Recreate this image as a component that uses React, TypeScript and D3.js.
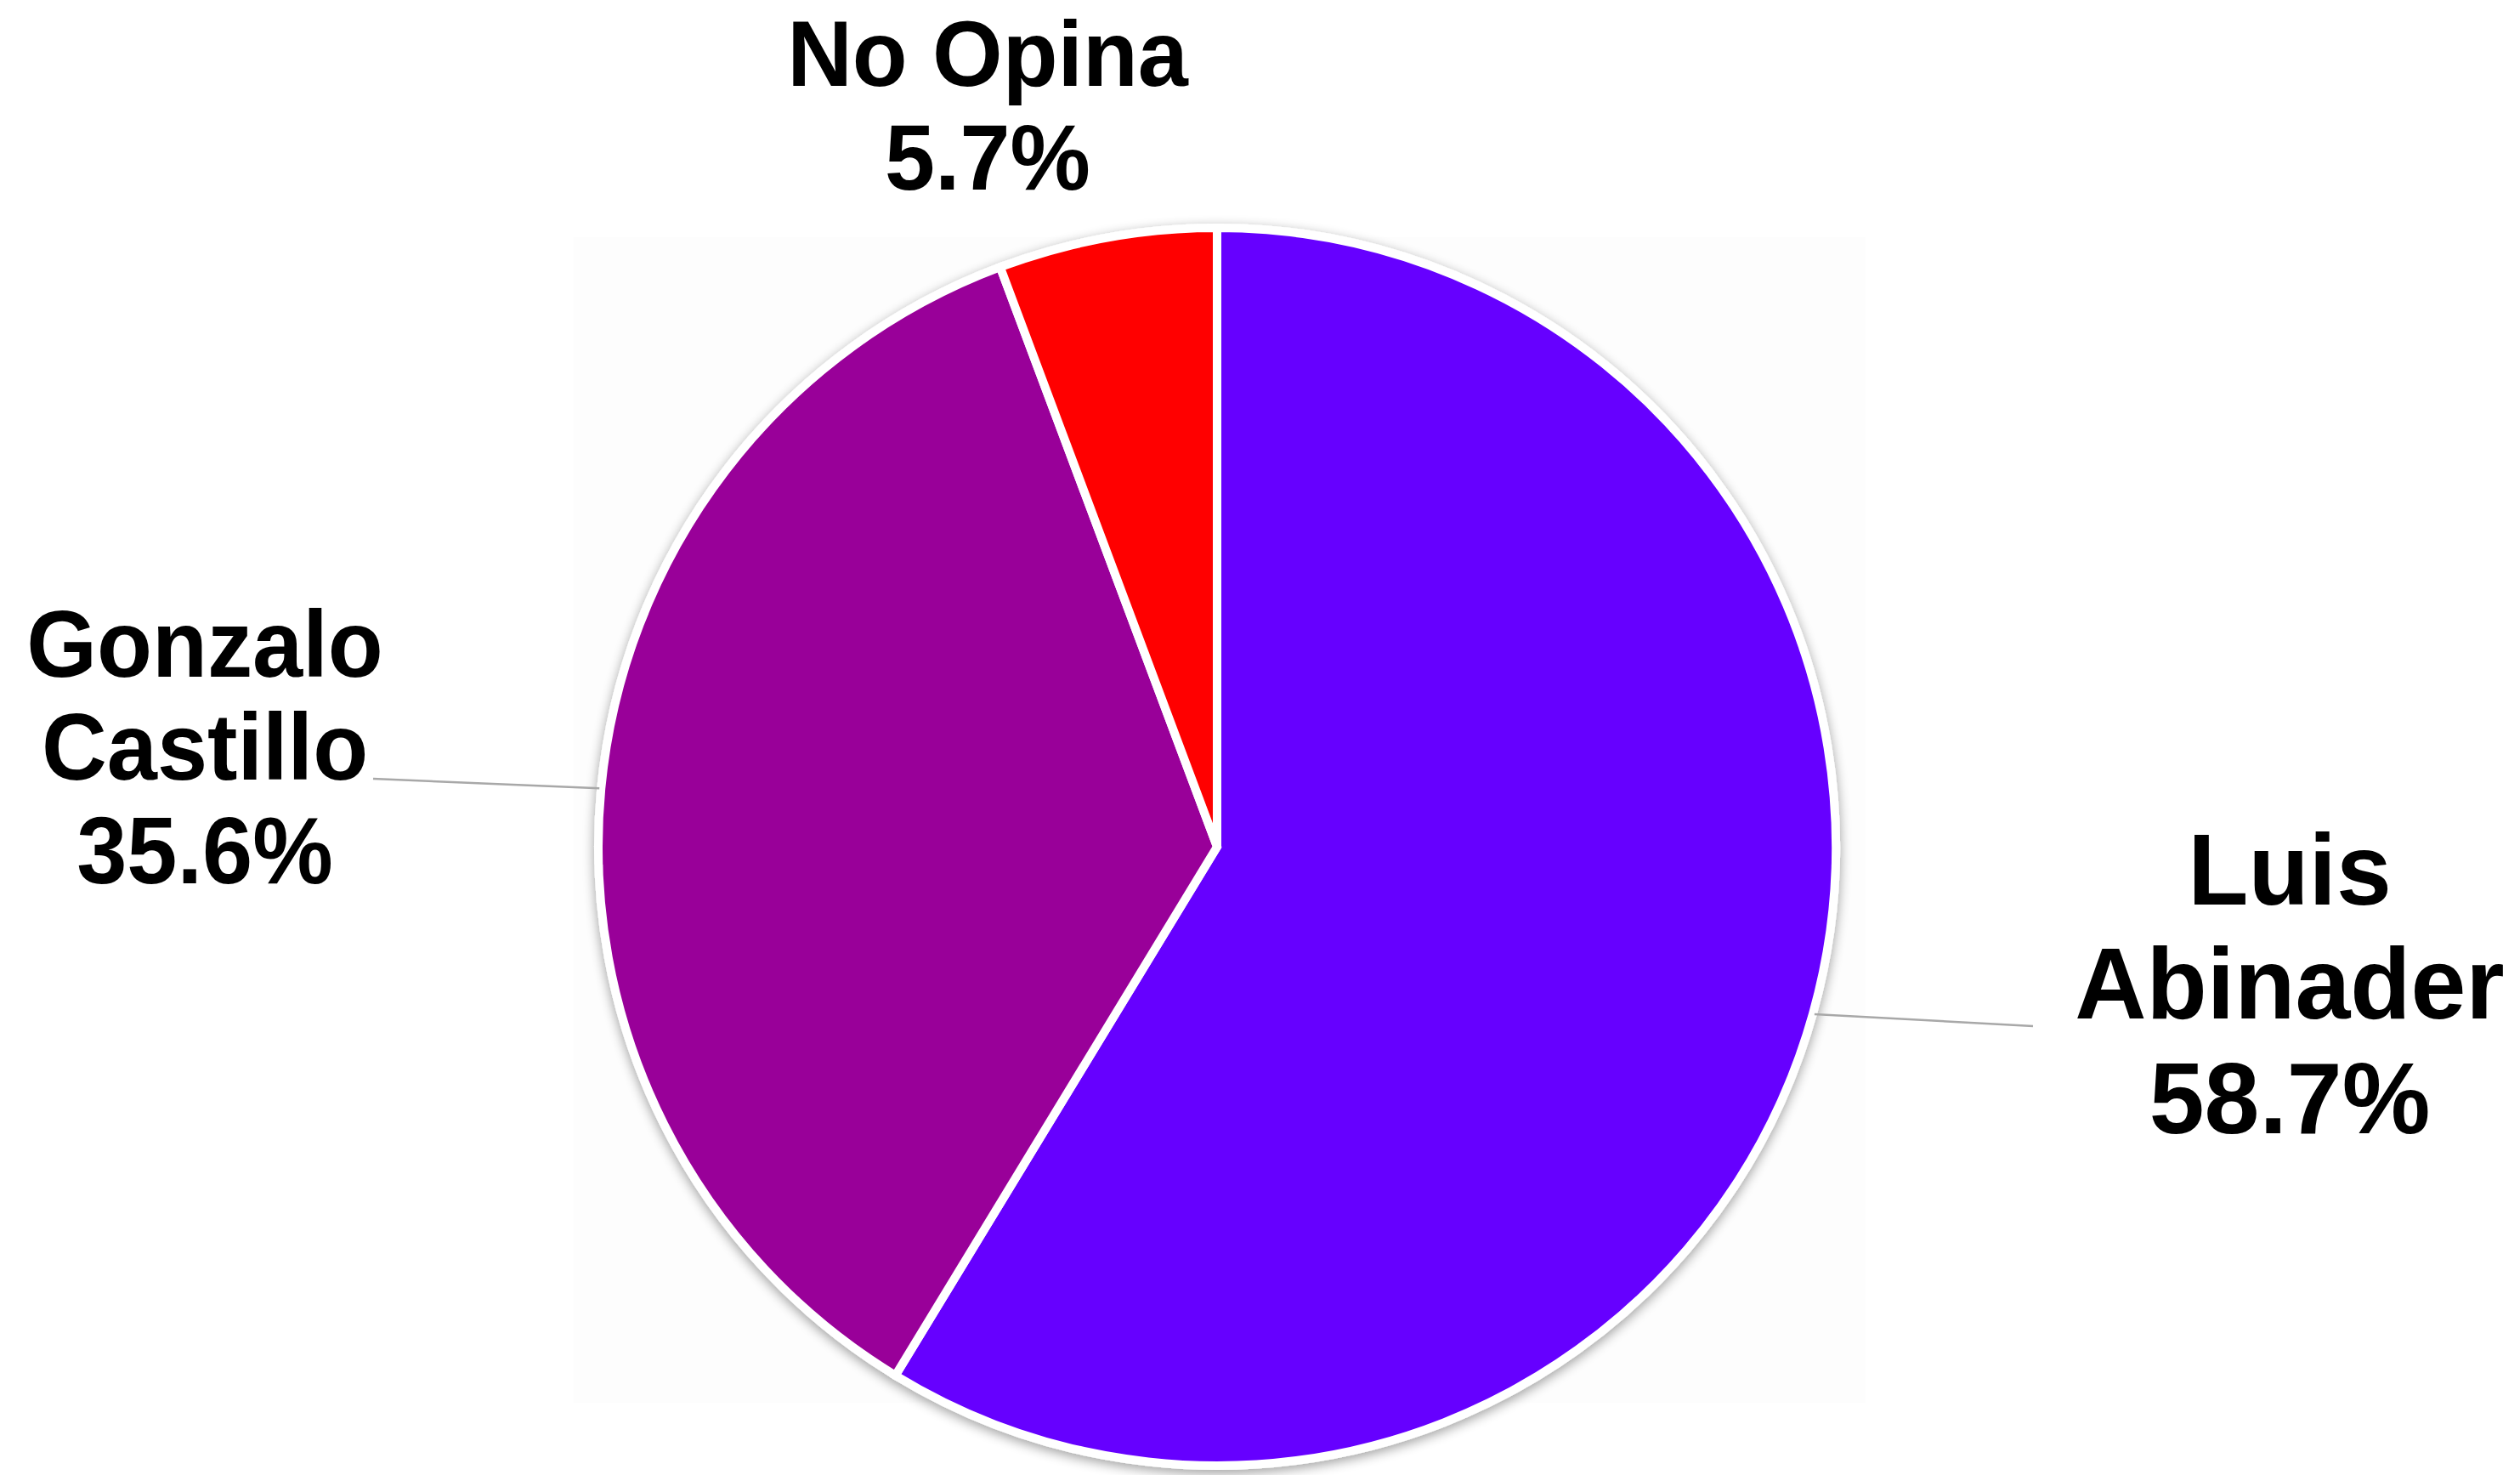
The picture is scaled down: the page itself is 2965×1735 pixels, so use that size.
import React from "react";
import * as d3 from "d3";

const categories = ["Luis Abinader", "Gonzalo Castillo", "No Opina"];
const values = [58.7, 35.6, 5.7];
const colors = ["#6600FF", "#990099", "#FF0000"];
const labelLines = [["Luis", "Abinader", "58.7%"], ["Gonzalo", "Castillo", "35.6%"], ["No Opina", "5.7%"]];

const W = 2965;
const H = 1735;
const CX = 1432;
const CY = 996;
const R = 728;

// label layout: [center x, first baseline, line spacing, font size, horizontal squeeze]
const labelLayout = [
  { x: 2694, y: 1064, dy: 134.5, size: 119, sx: 0.98 },
  { x: 241, y: 796, dy: 121.5, size: 112, sx: 0.95 },
  { x: 1162, y: 101, dy: 122, size: 110, sx: 0.965 },
];
// leader line end points (outer)
const leaderEnds: ([number, number] | null)[] = [[2392, 1207], [439, 916], null];

export default function App() {
  const pie = d3.pie<number>().sort(null).value((d) => d);
  const arcs = pie(values);
  const arc = d3.arc<d3.PieArcDatum<number>>().innerRadius(0).outerRadius(R);

  return (
    <svg width={W} height={H} style={{ position: "absolute", left: 0, top: 0, background: "#fff" }}>
      <defs>
        <filter id="shadow" x="-10%" y="-10%" width="120%" height="120%">
          <feGaussianBlur in="SourceAlpha" stdDeviation="7" />
          <feOffset dx="0" dy="4" result="b" />
          <feComponentTransfer>
            <feFuncA type="linear" slope="0.38" />
          </feComponentTransfer>
          <feMerge>
            <feMergeNode />
            <feMergeNode in="SourceGraphic" />
          </feMerge>
        </filter>
      </defs>
      <rect x={675} y={279} width={1520} height={1371} fill="#fdfdfd" />
      <g transform={`translate(${CX},${CY})`} filter="url(#shadow)">
        {arcs.map((a, i) => (
          <path key={categories[i]} d={arc(a) || ""} fill={colors[i]} stroke="#fff" strokeWidth={10} strokeLinejoin="miter" />
        ))}
      </g>
      {arcs.map((a, i) => {
        const end = leaderEnds[i];
        if (!end) return null;
        const mid = (a.startAngle + a.endAngle) / 2;
        const sx = CX + Math.sin(mid) * (R + 2);
        const sy = CY - Math.cos(mid) * (R + 2);
        return <line key={"l" + i} x1={sx} y1={sy} x2={end[0]} y2={end[1]} stroke="#a8a8a8" strokeWidth={2.5} />;
      })}
      {labelLines.map((lines, i) => {
        const L = labelLayout[i];
        return (
          <text
            key={"t" + i}
            transform={`translate(${L.x},0) scale(${L.sx},1)`}
            textAnchor="middle"
            fontFamily="'Liberation Sans', Arial, Helvetica, sans-serif"
            fontWeight="bold"
            fontSize={L.size}
            fill="#000"
          >
            {lines.map((ln, j) => (
              <tspan key={j} x={0} y={L.y + j * L.dy}>
                {ln}
              </tspan>
            ))}
          </text>
        );
      })}
    </svg>
  );
}
